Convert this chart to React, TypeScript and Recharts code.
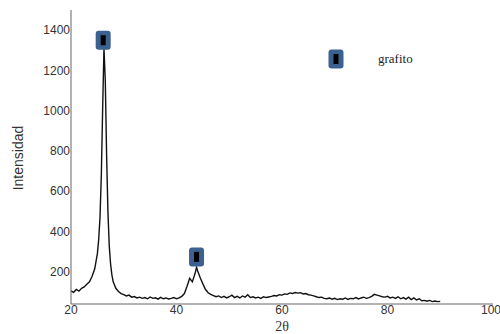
import React from 'react';
import { XAxis, YAxis, Line, Scatter, ComposedChart } from 'recharts';

const angles = [
  20, 20.5, 21, 21.5, 22, 22.5, 23, 23.5, 24, 24.5,
  25, 25.25, 25.5, 25.75, 26, 26.25, 26.5, 26.75, 27, 27.25, 27.5, 27.75,
  28, 28.5, 29, 29.5, 30, 30.5, 31, 31.5, 32, 32.5, 33, 33.5, 34, 34.5,
  35, 35.5, 36, 36.5, 37, 37.5, 38, 38.5, 39, 39.5, 40, 40.5, 41, 41.5,
  42, 42.5, 43, 43.5, 43.8, 44, 44.5, 45, 45.5, 46, 46.5, 47, 47.5,
  48, 48.5, 49, 49.5, 50, 50.5, 51, 51.5, 52, 52.5, 53, 53.5, 54, 54.5,
  55, 55.5, 56, 56.5, 57, 57.5, 58, 58.5, 59, 59.5, 60, 60.5, 61, 61.5,
  62, 62.5, 63, 63.5, 64, 64.5, 65, 65.5, 66, 66.5, 67, 67.5, 68, 68.5,
  69, 69.5, 70, 70.5, 71, 71.5, 72, 72.5, 73, 73.5, 74, 74.5, 75, 75.5,
  76, 76.5, 77, 77.5, 78, 78.5, 79, 79.5, 80, 80.5, 81, 81.5, 82, 82.5,
  83, 83.5, 84, 84.5, 85, 85.5, 86, 86.5, 87, 87.5, 88, 88.5, 89, 89.5, 90,
];

const intensity = [
  105, 98, 112, 104, 118, 125, 138, 150, 178, 215,
  290, 360, 470, 680, 1010, 1310, 1150, 780, 500, 330, 240, 185,
  150, 118, 102, 92, 86, 80, 84, 74, 77, 70, 74, 68, 72, 66,
  75, 68, 71, 64, 73, 66, 70, 65, 68, 72, 66, 70, 78, 92,
  128, 168, 150, 190, 222, 205, 170, 140, 112, 96, 88, 82, 76,
  80, 72, 78, 70, 76, 84, 72, 78, 70, 80, 74, 86, 72, 76,
  70, 74, 68, 76, 72, 75, 78, 82, 80, 86, 84, 90, 88, 95,
  92, 97, 94, 96, 90, 92, 86, 84, 80, 76, 72, 74, 68, 66,
  70, 64, 68, 62, 66, 64, 70, 63, 68, 66, 72, 65, 70, 74,
  68, 72, 78, 88, 84, 80, 76, 74, 78, 70, 74, 68, 76, 66,
  72, 64, 74, 62, 70, 60, 66, 56, 58, 54, 58, 52, 55, 52, 53,
];

// peak markers (grafito)
const markerAngles = [26.1, 43.8];
const markerValues = [1350, 274];

const xTicks = [20, 40, 60, 80, 100];
const yTicks = [200, 400, 600, 800, 1000, 1200, 1400];

const pattern = angles.map((a, i) => ({ angle: a, value: intensity[i] }));
const markers = markerAngles.map((a, i) => ({ angle: a, mark: markerValues[i] }));

const MarkerShape = (props: any) => {
  const { cx, cy } = props;
  return (
    <g>
      <rect x={cx - 7.5} y={cy - 9.5} width={15} height={19} rx={3} fill="#3c6190" />
      <rect x={cx - 2.5} y={cy - 5} width={5} height={10} fill="#000" />
    </g>
  );
};

const tickStyle = { fontFamily: '"Liberation Sans", Arial, sans-serif', fontSize: 12, fill: '#333' };

export default function App() {
  return (
    <div style={{ position: 'absolute', left: 0, top: 0, width: 500, height: 334 }}>
      <ComposedChart width={500} height={334} data={pattern} margin={{ top: 10, right: 7, left: 70, bottom: 29 }}>
        <XAxis
          dataKey="angle"
          type="number"
          domain={[20, 100]}
          ticks={xTicks}
          height={1}
          tickSize={0}
          tickMargin={1}
          tick={tickStyle}
          stroke="#666"
          allowDataOverflow
        />
        <YAxis
          type="number"
          domain={[40, 1500]}
          ticks={yTicks}
          width={1}
          tickSize={0}
          tickMargin={1}
          tick={tickStyle}
          stroke="#666"
          allowDataOverflow
        />
        <Line
          dataKey="value"
          stroke="#111"
          strokeWidth={1.4}
          dot={false}
          type="linear"
          isAnimationActive={false}
        />
        <Scatter
          data={markers}
          dataKey="mark"
          shape={<MarkerShape />}
          isAnimationActive={false}
        />
      </ComposedChart>
      <div
        style={{
          position: 'absolute',
          left: 328,
          top: 49,
          display: 'flex',
          alignItems: 'center',
          fontFamily: '"Liberation Serif", serif',
          fontSize: 13,
          color: '#222',
        }}
      >
        <svg width={16} height={20}>
          <rect x={0.5} y={0.5} width={15} height={19} rx={3} fill="#3c6190" />
          <rect x={5.5} y={5} width={5} height={10} fill="#000" />
        </svg>
        <span style={{ marginLeft: 34 }}>grafito</span>
      </div>
      <div
        style={{
          position: 'absolute',
          left: 18,
          top: 158,
          transform: 'translate(-50%, -50%) rotate(-90deg)',
          fontFamily: '"Liberation Sans", Arial, sans-serif',
          fontSize: 14,
          color: '#333',
          whiteSpace: 'nowrap',
        }}
      >
        Intensidad
      </div>
      <div
        style={{
          position: 'absolute',
          left: 282,
          top: 327,
          transform: 'translate(-50%, -50%)',
          fontFamily: '"Liberation Serif", serif',
          fontSize: 14,
          color: '#333',
          whiteSpace: 'nowrap',
        }}
      >
        2θ
      </div>
    </div>
  );
}
